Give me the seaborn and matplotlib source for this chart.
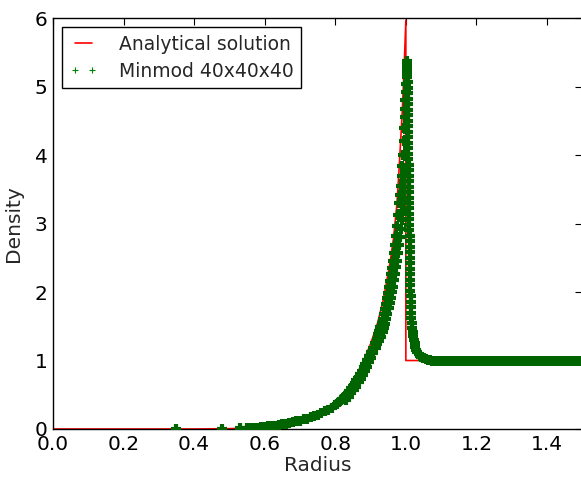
import numpy as np
import pandas as pd
import matplotlib
matplotlib.use("Agg")
import matplotlib.pyplot as plt
from matplotlib.lines import Line2D
import seaborn as sns

# ---------------- data ----------------
ana_r = [0.00, 0.40, 0.50, 0.55, 0.60, 0.65, 0.70, 0.75, 0.77, 0.80, 0.82,
         0.84, 0.86, 0.88, 0.90, 0.92, 0.935, 0.945, 0.955, 0.965, 0.975,
         0.980, 0.985, 0.990, 0.995, 1.000, 1.000, 1.50]
ana_rho = [0.0, 0.0, 0.005, 0.015, 0.03, 0.06, 0.13, 0.24, 0.29, 0.40, 0.50,
           0.62, 0.79, 1.00, 1.24, 1.55, 1.86, 2.13, 2.42, 2.78, 3.30,
           3.72, 4.18, 4.65, 5.25, 5.97, 1.00, 1.00]

# simulation: rising branch, inner edge of the band
sim_in_r = [0.35, 0.48, 0.53, 0.55, 0.56, 0.57, 0.58, 0.59, 0.60, 0.61, 0.62,
            0.63, 0.64, 0.65, 0.66, 0.67, 0.68, 0.69, 0.70, 0.71, 0.72, 0.73,
            0.74, 0.75, 0.76, 0.77, 0.78, 0.79, 0.80, 0.805, 0.81, 0.815,
            0.82, 0.825, 0.83, 0.835, 0.84, 0.845, 0.85, 0.855, 0.86, 0.865,
            0.87, 0.875, 0.88, 0.885, 0.89, 0.895, 0.902, 0.907, 0.912, 0.917,
            0.920, 0.922, 0.925, 0.928, 0.931, 0.934, 0.937, 0.940, 0.943,
            0.946, 0.949, 0.952, 0.955, 0.958, 0.961, 0.964, 0.967, 0.970,
            0.973, 0.976, 0.979, 0.982, 0.984, 0.986, 0.988, 0.990, 0.992,
            0.994, 0.996, 0.997, 0.998, 0.999, 1.000, 1.001, 1.002, 1.003,
            1.004]
sim_in_rho = [0.00, 0.00, 0.01, 0.01, 0.02, 0.02, 0.02, 0.03, 0.03, 0.04, 0.04,
              0.05, 0.06, 0.07, 0.08, 0.09, 0.10, 0.11, 0.12, 0.14, 0.15, 0.17,
              0.19, 0.21, 0.23, 0.26, 0.28, 0.31, 0.35, 0.37, 0.39, 0.42,
              0.44, 0.47, 0.50, 0.53, 0.56, 0.60, 0.63, 0.67, 0.71, 0.75,
              0.80, 0.85, 0.90, 0.95, 1.01, 1.06, 1.13, 1.19, 1.26, 1.32,
              1.36, 1.39, 1.43, 1.49, 1.55, 1.61, 1.68, 1.75, 1.83,
              1.91, 1.99, 2.07, 2.16, 2.26, 2.35, 2.46, 2.57, 2.68,
              2.82, 2.96, 3.12, 3.30, 3.42, 3.55, 3.69, 3.84, 4.00,
              4.20, 4.40, 4.55, 4.68, 4.80, 4.92, 5.04, 5.15, 5.25,
              5.35]

# simulation: rising branch, outer edge of the band
sim_mid_r = [0.830, 0.838, 0.845, 0.852, 0.859, 0.866, 0.872, 0.878, 0.884,
             0.890, 0.896, 0.902, 0.908, 0.914, 0.919, 0.924, 0.929, 0.934,
             0.937, 0.940, 0.943, 0.947, 0.951, 0.955, 0.958, 0.961, 0.964,
             0.967, 0.970, 0.973, 0.976, 0.979, 0.982, 0.984, 0.986, 0.988,
             0.990, 0.992, 0.994, 0.996, 0.998, 0.999]
sim_mid_rho = [0.42, 0.47, 0.52, 0.57, 0.62, 0.68, 0.73, 0.79, 0.85,
               0.91, 0.98, 1.04, 1.11, 1.18, 1.24, 1.29, 1.34, 1.41,
               1.47, 1.54, 1.61, 1.68, 1.76, 1.84, 1.92, 2.00, 2.08,
               2.17, 2.26, 2.36, 2.46, 2.57, 2.68, 2.80, 2.92, 3.05,
               3.18, 3.32, 3.46, 3.62, 3.80, 4.00]

# simulation: post-shock smearing and ambient medium
sim_out_r = [1.003, 1.004, 1.004, 1.004, 1.005, 1.005, 1.005, 1.005, 1.005,
             1.006, 1.006, 1.006, 1.006, 1.006, 1.007, 1.007, 1.007, 1.007,
             1.007, 1.008, 1.008, 1.008, 1.008, 1.008, 1.009, 1.009, 1.009,
             1.009, 1.010, 1.010, 1.010, 1.010, 1.011, 1.011, 1.011, 1.011,
             1.012, 1.012, 1.012, 1.012, 1.013, 1.013, 1.013, 1.014, 1.014,
             1.015, 1.015, 1.016, 1.017, 1.018, 1.019, 1.021, 1.023, 1.025,
             1.027, 1.030, 1.033, 1.036, 1.040, 1.044, 1.048, 1.052, 1.057,
             1.062, 1.068,
             1.075, 1.085, 1.095, 1.105, 1.115, 1.125, 1.135, 1.145, 1.155,
             1.165, 1.175, 1.185, 1.195, 1.205, 1.215, 1.225, 1.235, 1.245,
             1.255, 1.265, 1.275, 1.285, 1.295, 1.305, 1.315, 1.325, 1.335,
             1.345, 1.355, 1.365, 1.375, 1.385, 1.395, 1.405, 1.415, 1.425,
             1.435, 1.445, 1.455, 1.465, 1.475, 1.485, 1.495]
sim_out_rho = [5.38, 5.30, 5.22, 5.14, 5.06, 4.98, 4.90, 4.82, 4.74,
               4.66, 4.58, 4.50, 4.42, 4.34, 4.26, 4.18, 4.10, 4.02,
               3.94, 3.86, 3.78, 3.70, 3.62, 3.54, 3.46, 3.38, 3.30,
               3.22, 3.14, 3.06, 2.98, 2.90, 2.82, 2.74, 2.66, 2.58,
               2.50, 2.42, 2.34, 2.26, 2.18, 2.10, 2.02, 1.94, 1.86,
               1.78, 1.70, 1.62, 1.55, 1.48, 1.42, 1.36, 1.30, 1.25,
               1.20, 1.16, 1.12, 1.09, 1.07, 1.05, 1.04, 1.03, 1.02,
               1.01, 1.01,
               1.00, 1.00, 1.00, 1.00, 1.00, 1.00, 1.00, 1.00, 1.00,
               1.00, 1.00, 1.00, 1.00, 1.00, 1.00, 1.00, 1.00, 1.00,
               1.00, 1.00, 1.00, 1.00, 1.00, 1.00, 1.00, 1.00, 1.00,
               1.00, 1.00, 1.00, 1.00, 1.00, 1.00, 1.00, 1.00, 1.00,
               1.00, 1.00, 1.00, 1.00, 1.00, 1.00, 1.00]

x_ticks = [0.0, 0.2, 0.4, 0.6, 0.8, 1.0, 1.2, 1.4]
y_ticks = [0, 1, 2, 3, 4, 5, 6]
ana_label = "Analytical solution"
sim_label = "Minmod 40x40x40"

# ---------------- plotting ----------------
sns.set_style("white")
plt.rcParams['font.family'] = ['DejaVu Sans']

fig = plt.figure(figsize=(5.81, 4.80), dpi=100)
ax = fig.add_axes([0.0912, 0.10625, 0.911, 0.856])

ana = pd.DataFrame({"r": ana_r, "rho": ana_rho})
sim = pd.DataFrame({"r": sim_in_r + sim_mid_r + sim_out_r,
                    "rho": sim_in_rho + sim_mid_rho + sim_out_rho})

sns.lineplot(data=ana, x="r", y="rho", sort=False, estimator=None,
             color="red", linewidth=1.2, ax=ax, legend=False)
sns.scatterplot(data=sim, x="r", y="rho", marker="+", s=42, linewidth=3.0,
                color="darkgreen", ax=ax, legend=False, zorder=3)

ax.set_xlim(0.0, 1.5)
ax.set_ylim(0, 6)
ax.set_xticks(x_ticks)
ax.set_yticks(y_ticks)
ax.set_xticklabels([f"{v:.1f}" for v in x_ticks])
ax.set_yticklabels([str(v) for v in y_ticks])
ax.tick_params(direction="in", length=5, width=0.8, labelsize=14.5,
               top=True, right=True, pad=4, colors="black")
for s in ax.spines.values():
    s.set_color("black")
    s.set_linewidth(1.0)
ax.set_xlabel("Radius", fontsize=14.5, labelpad=2)
ax.set_ylabel("Density", fontsize=14.5, labelpad=8)

handles = [Line2D([0], [0], color="red", lw=1.2),
           Line2D([0], [0], color="green", marker="+", ls="", markersize=5,
                  markeredgewidth=0.8)]
leg = ax.legend(handles, [ana_label, sim_label], loc="upper left",
                numpoints=2, fontsize=13.5, frameon=True, fancybox=False,
                edgecolor="black", framealpha=1, handlelength=1.5,
                borderaxespad=0.5, borderpad=0.4, labelspacing=0.42,
                handletextpad=1.1)
leg.get_frame().set_linewidth(1.0)

fig.savefig("out.png", dpi=100)
